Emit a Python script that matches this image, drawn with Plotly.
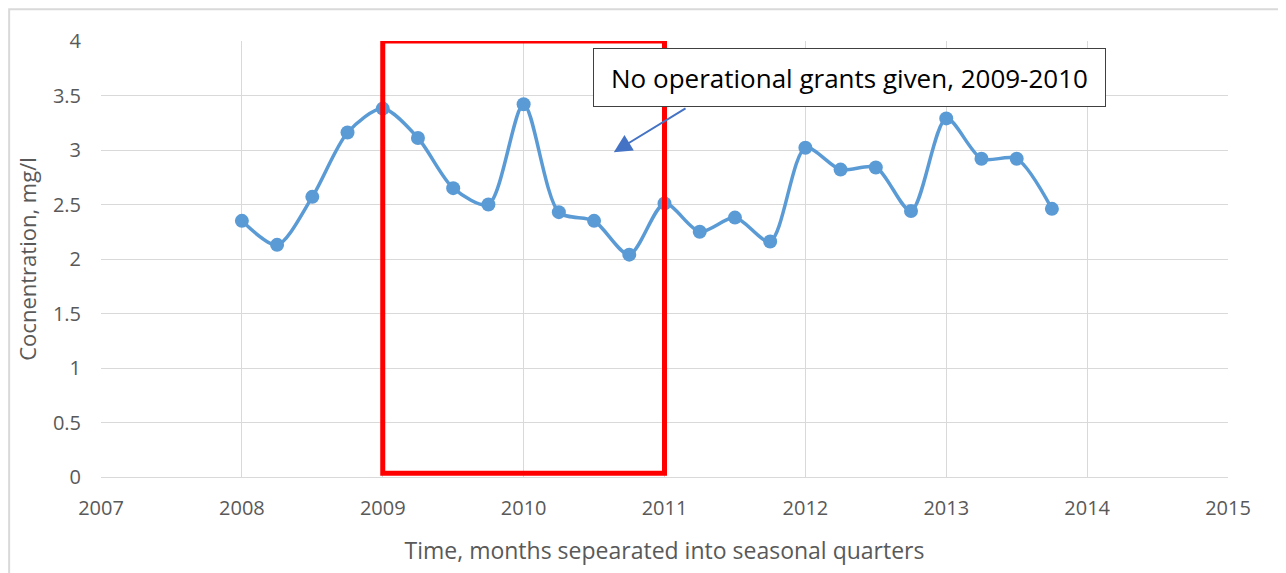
import plotly.graph_objects as go

# Data
quarters = [2008.00, 2008.25, 2008.50, 2008.75, 2009.00, 2009.25, 2009.50, 2009.75,
            2010.00, 2010.25, 2010.50, 2010.75, 2011.00, 2011.25, 2011.50, 2011.75,
            2012.00, 2012.25, 2012.50, 2012.75, 2013.00, 2013.25, 2013.50, 2013.75]
concentration = [2.35, 2.13, 2.57, 3.16, 3.38, 3.11, 2.65, 2.50,
                 3.42, 2.43, 2.35, 2.04, 2.51, 2.25, 2.38, 2.16,
                 3.02, 2.82, 2.84, 2.44, 3.29, 2.92, 2.92, 2.46]
x_ticks = [2007, 2008, 2009, 2010, 2011, 2012, 2013, 2014, 2015]
y_ticks = [0, 0.5, 1, 1.5, 2, 2.5, 3, 3.5, 4]
y_tick_labels = ["0", "0.5", "1", "1.5", "2", "2.5", "3", "3.5", "4"]
grant_period = [2009, 2011]
annotation_text = "No operational grants given, 2009-2010"

FONT = "Open Sans, Liberation Sans, sans-serif"
GRAY = "#595959"

fig = go.Figure()
fig.add_trace(go.Scatter(
    x=quarters, y=concentration, mode="lines+markers",
    line=dict(color="#5B9BD5", width=3.5, shape="spline", smoothing=0.8),
    marker=dict(color="#5B9BD5", size=14),
    showlegend=False, hoverinfo="x+y",
))

# red rectangle highlighting the period
fig.add_shape(type="rect", xref="x", yref="y",
              x0=grant_period[0], x1=grant_period[1], y0=0.035, y1=4,
              line=dict(color="#FF0000", width=5), layer="above")

# outer chart border
fig.add_shape(type="rect", xref="paper", yref="paper",
              x0=-0.0815, x1=1.06, y0=-0.3, y1=1.073,
              line=dict(color="#D9D9D9", width=2), layer="below")

# arrow
fig.add_annotation(x=2010.64, y=2.98, ax=2011.16, ay=3.39,
                   xref="x", yref="y", axref="x", ayref="y",
                   text="", showarrow=True, arrowhead=2, arrowsize=1.8,
                   arrowwidth=2, arrowcolor="#4472C4")
# text box
fig.add_annotation(x=2012.313, y=3.665, xref="x", yref="y",
                   text=annotation_text, showarrow=False,
                   font=dict(family=FONT, size=26, color="#000000"),
                   width=509, height=55, bgcolor="white",
                   bordercolor="#404040", borderwidth=1, borderpad=1)

fig.update_layout(
    width=1286, height=573,
    margin=dict(l=93, r=66, t=33, b=104, autoexpand=False),
    paper_bgcolor="white", plot_bgcolor="white",
    font=dict(family=FONT, color=GRAY),
    xaxis=dict(range=[2007, 2015], tickvals=x_ticks, ticktext=[str(v) for v in x_ticks],
               showgrid=True, gridcolor="#D9D9D9", gridwidth=1, automargin=False,
               zeroline=False, showline=True, linecolor="#D9D9D9", linewidth=1,
               tickfont=dict(size=20, color=GRAY), ticks="outside", ticklen=13,
               tickcolor="rgba(0,0,0,0)",
               title=dict(text="Time, months sepearated into seasonal quarters",
                          font=dict(size=23, color=GRAY), standoff=22)),
    yaxis=dict(range=[0, 4], tickvals=y_ticks, ticktext=y_tick_labels,
               showgrid=True, gridcolor="#D9D9D9", gridwidth=1, automargin=False,
               zeroline=False, showline=False,
               tickfont=dict(size=20, color=GRAY), ticks="outside", ticklen=15,
               tickcolor="rgba(0,0,0,0)",
               title=dict(text="Cocnentration, mg/l",
                          font=dict(size=22, color=GRAY), standoff=10)),
)

fig.write_html("out.html")
